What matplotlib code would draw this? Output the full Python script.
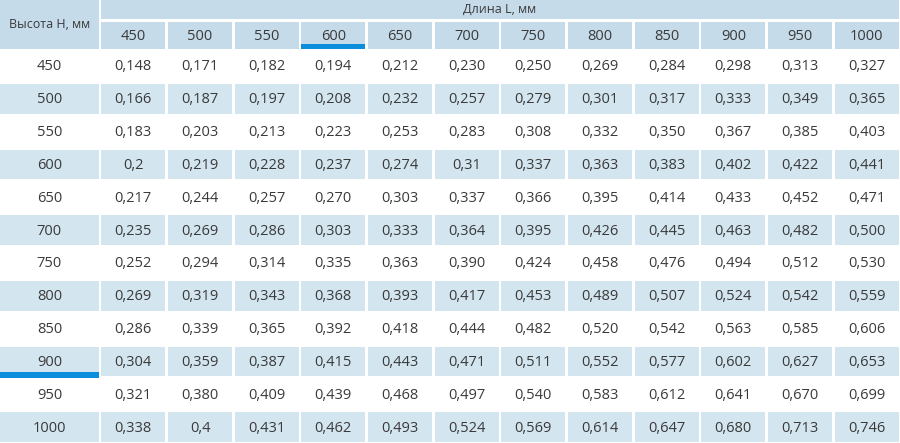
import matplotlib
matplotlib.use("Agg")
import matplotlib.pyplot as plt
from matplotlib.patches import Rectangle

plt.rcParams['font.family'] = ['Open Sans', 'DejaVu Sans']

row_header = "Высота H, мм"
col_header = "Длина L, мм"
lengths = ["450", "500", "550", "600", "650", "700", "750", "800", "850", "900", "950", "1000"]
heights = ["450", "500", "550", "600", "650", "700", "750", "800", "850", "900", "950", "1000"]
values = [
    ["0,148", "0,171", "0,182", "0,194", "0,212", "0,230", "0,250", "0,269", "0,284", "0,298", "0,313", "0,327"],
    ["0,166", "0,187", "0,197", "0,208", "0,232", "0,257", "0,279", "0,301", "0,317", "0,333", "0,349", "0,365"],
    ["0,183", "0,203", "0,213", "0,223", "0,253", "0,283", "0,308", "0,332", "0,350", "0,367", "0,385", "0,403"],
    ["0,2", "0,219", "0,228", "0,237", "0,274", "0,31", "0,337", "0,363", "0,383", "0,402", "0,422", "0,441"],
    ["0,217", "0,244", "0,257", "0,270", "0,303", "0,337", "0,366", "0,395", "0,414", "0,433", "0,452", "0,471"],
    ["0,235", "0,269", "0,286", "0,303", "0,333", "0,364", "0,395", "0,426", "0,445", "0,463", "0,482", "0,500"],
    ["0,252", "0,294", "0,314", "0,335", "0,363", "0,390", "0,424", "0,458", "0,476", "0,494", "0,512", "0,530"],
    ["0,269", "0,319", "0,343", "0,368", "0,393", "0,417", "0,453", "0,489", "0,507", "0,524", "0,542", "0,559"],
    ["0,286", "0,339", "0,365", "0,392", "0,418", "0,444", "0,482", "0,520", "0,542", "0,563", "0,585", "0,606"],
    ["0,304", "0,359", "0,387", "0,415", "0,443", "0,471", "0,511", "0,552", "0,577", "0,602", "0,627", "0,653"],
    ["0,321", "0,380", "0,409", "0,439", "0,468", "0,497", "0,540", "0,583", "0,612", "0,641", "0,670", "0,699"],
    ["0,338", "0,4", "0,431", "0,462", "0,493", "0,524", "0,569", "0,614", "0,647", "0,680", "0,713", "0,746"],
]
highlight_col = "600"
highlight_row = "900"

HEADER = "#c5dbe9"
STRIPE = "#d3e5ef"
BLUE = "#0b8fdc"
TEXT = "#3a3a3a"

W, H = 900, 443
fig = plt.figure(figsize=(9, 4.43), dpi=100)
ax = fig.add_axes([0, 0, 1, 1])
ax.set_xlim(0, W)
ax.set_ylim(H, 0)
ax.axis("off")

first_w = 100
col_w = (W - first_w) / len(lengths)
h1 = 20.5
h2_top = 20.5
data_top = 49
row_h = (H - data_top) / len(heights)
g = 1.2
FS = 10.5

def rect(x0, y0, x1, y1, color):
    ax.add_patch(Rectangle((x0, y0), x1 - x0, y1 - y0, facecolor=color, edgecolor="none"))

# header cells
rect(0, 0, first_w - g, data_top, HEADER)
ax.text((first_w - g) / 2, data_top / 2, row_header, ha="center", va="center", fontsize=9, color=TEXT)
rect(first_w + g, 0, W - g, h1 - g, HEADER)
ax.text((first_w + W) / 2, (h1 - g) / 2, col_header, ha="center", va="center", fontsize=9, color=TEXT)
for j, lab in enumerate(lengths):
    x0 = first_w + j * col_w
    rect(x0 + g, h2_top + g, x0 + col_w - g, data_top, HEADER)
    ax.text(x0 + col_w / 2, (h2_top + data_top) / 2 + 1.5, lab, ha="center", va="center", fontsize=FS, color=TEXT)
    if lab == highlight_col:
        rect(x0 + g, data_top - 5.5, x0 + col_w - g, data_top, BLUE)

# data rows
for i, hlab in enumerate(heights):
    y0 = data_top + i * row_h
    yc = y0 + row_h / 2 + 1.5
    striped = (i % 2 == 1)
    if striped:
        rect(0, y0 + 2.2, first_w - g, y0 + row_h - 1, STRIPE)
    ax.text((first_w - g) / 2, yc, hlab, ha="center", va="center", fontsize=FS, color=TEXT)
    if hlab == highlight_row:
        rect(0, y0 + row_h - 5, first_w - g, y0 + row_h + 1, BLUE)
    for j, v in enumerate(values[i]):
        x0 = first_w + j * col_w
        if striped:
            rect(x0 + g, y0 + 2.2, x0 + col_w - g, y0 + row_h - 1, STRIPE)
        ax.text(x0 + col_w / 2, yc, v, ha="center", va="center", fontsize=FS, color=TEXT)

fig.savefig("out.png", dpi=100, facecolor="white")
